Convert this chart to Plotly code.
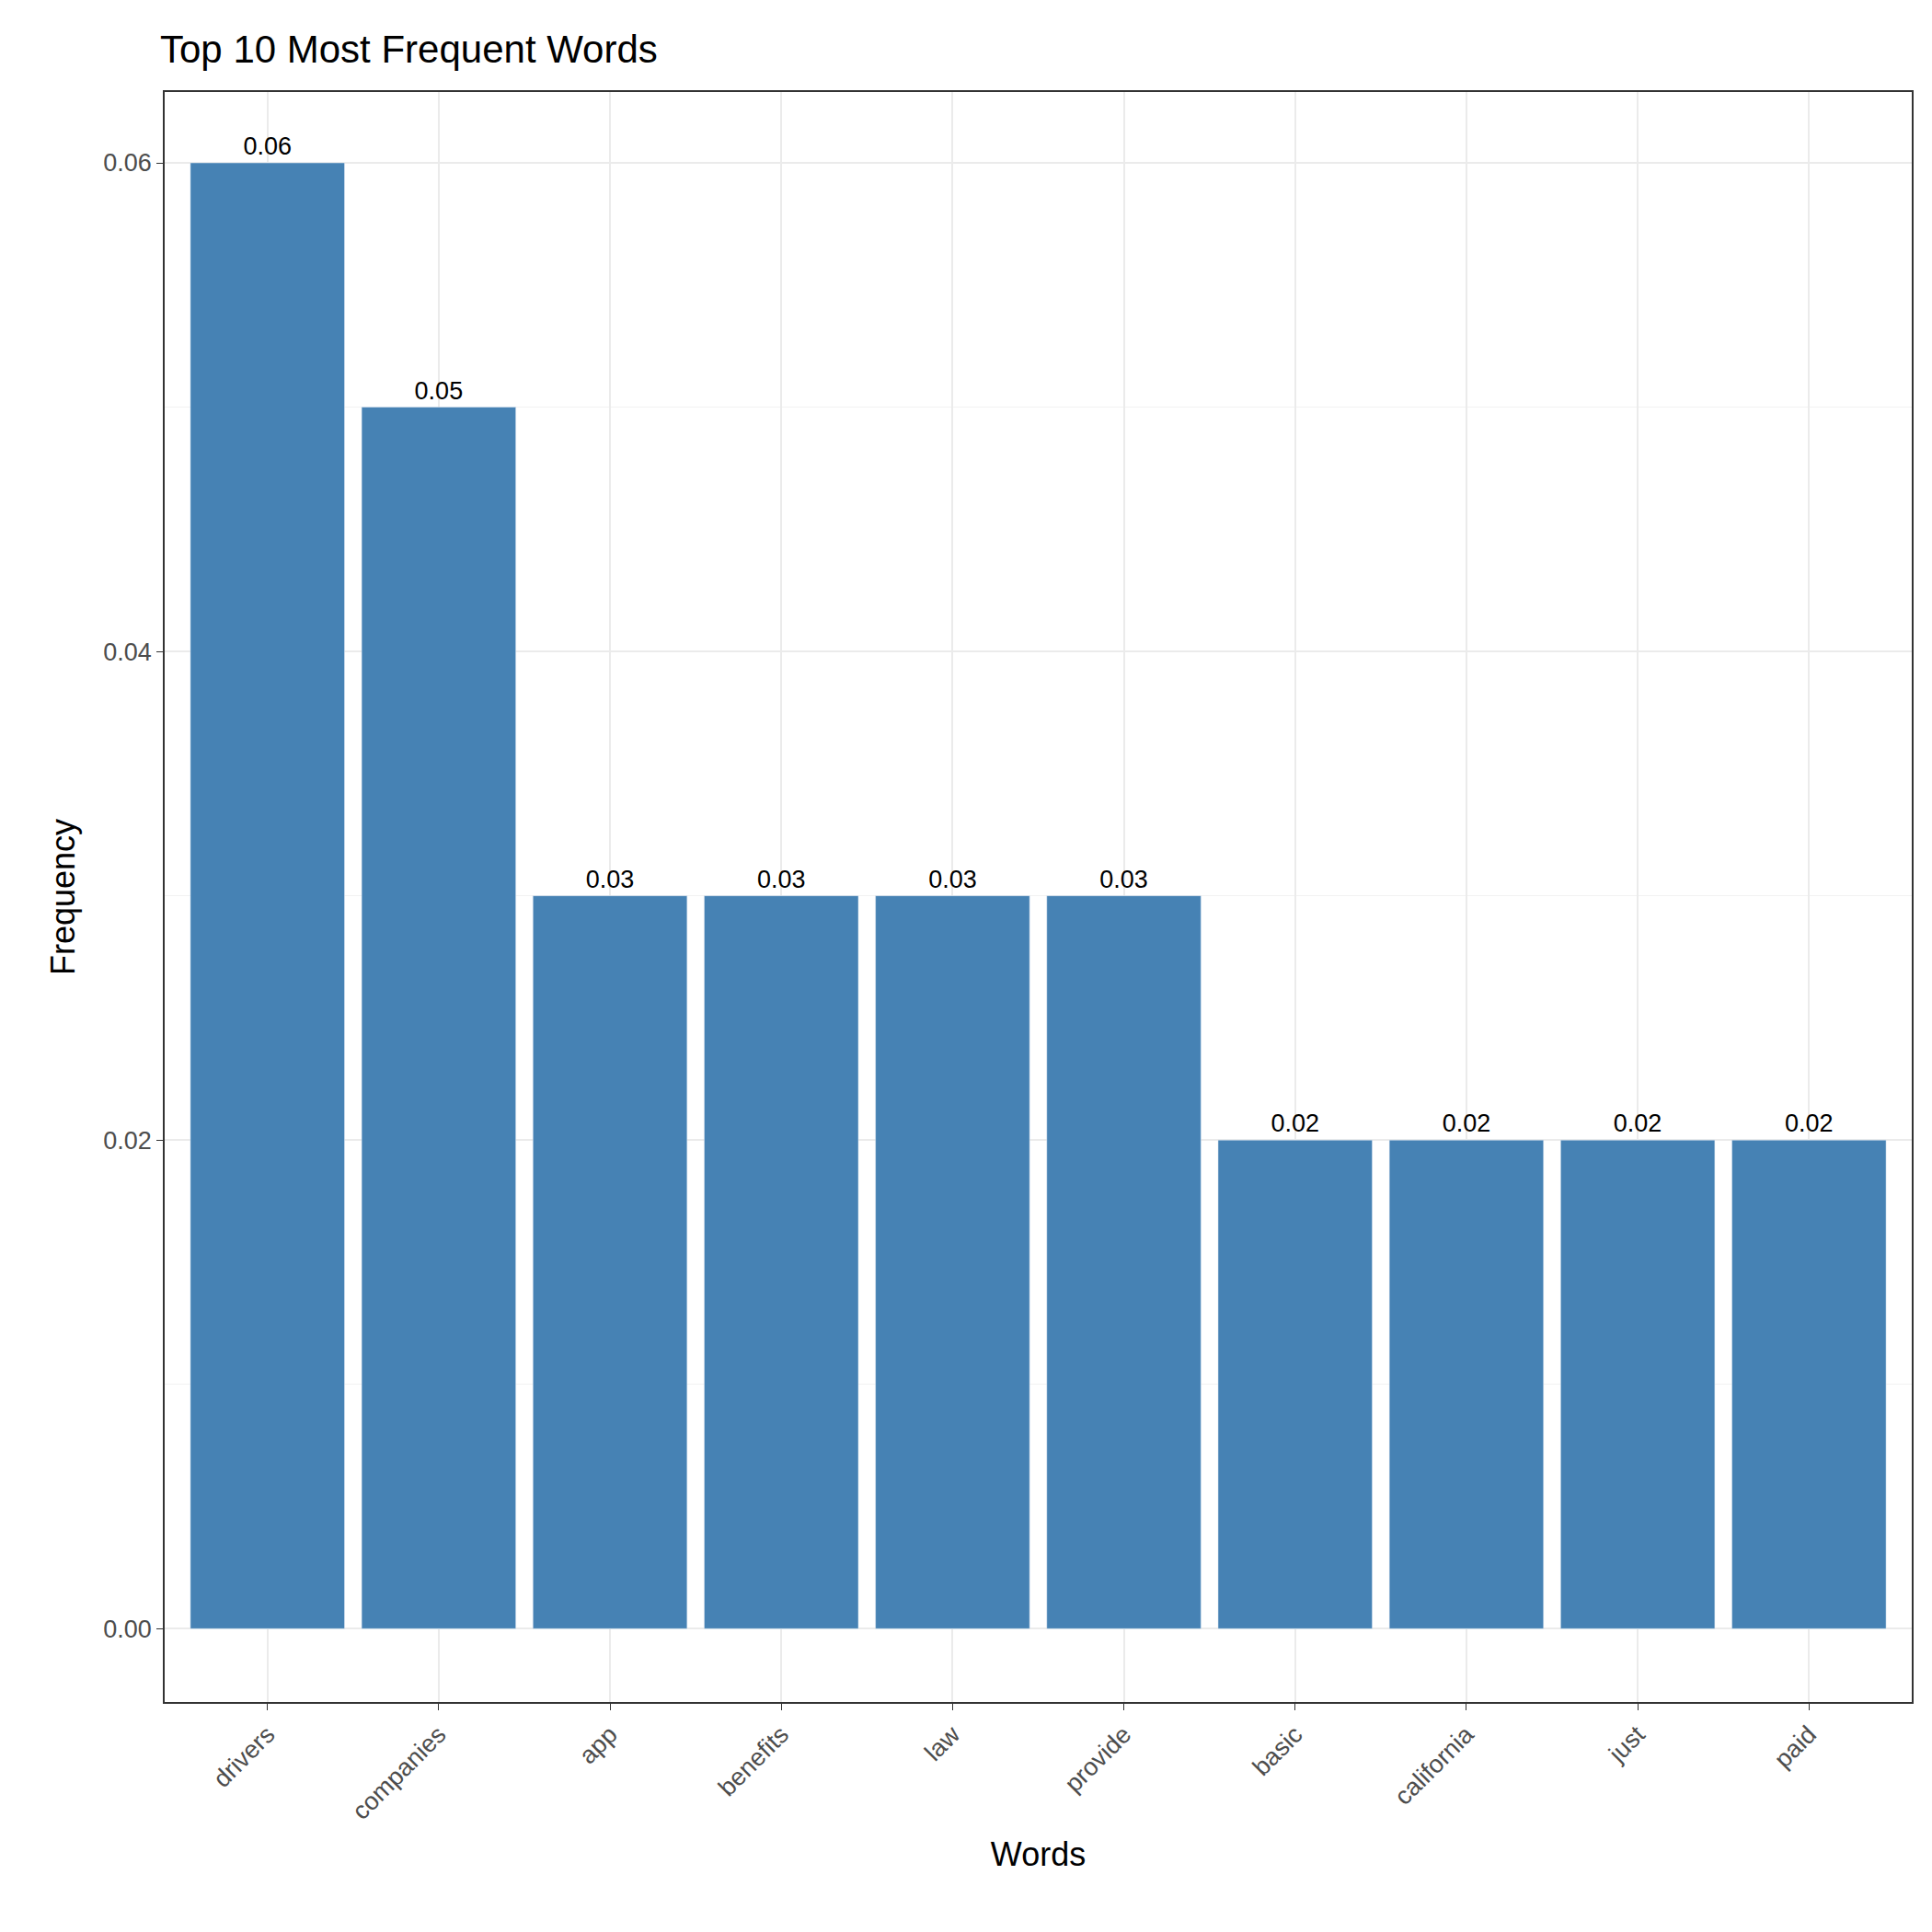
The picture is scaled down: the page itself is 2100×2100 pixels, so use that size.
import plotly.graph_objects as go

words = ["drivers", "companies", "app", "benefits", "law", "provide",
         "basic", "california", "just", "paid"]
freq = [0.06, 0.05, 0.03, 0.03, 0.03, 0.03, 0.02, 0.02, 0.02, 0.02]
labels = [f"{v:.2f}" for v in freq]

fig = go.Figure(go.Bar(
    x=words, y=freq, width=0.9,
    marker_color="#4682B4",
    text=labels, textposition="outside", cliponaxis=False,
    textfont=dict(size=27, color="black"),
))

fig.update_layout(
    width=2100, height=2100,
    margin=dict(l=171, r=30, t=92, b=258),
    paper_bgcolor="white", plot_bgcolor="white",
    font=dict(family="Liberation Sans, Arial, sans-serif", color="black"),
    title=dict(text="Top 10 Most Frequent Words", x=166 / 2100, xanchor="left",
               y=1 - 45 / 2100, yanchor="middle", font=dict(size=42)),
    showlegend=False,
)
fig.update_xaxes(
    title=dict(text="Words", font=dict(size=36), standoff=20),
    tickangle=-45, tickfont=dict(size=27, color="#4d4d4d"),
    showgrid=True, gridcolor="#ebebeb", gridwidth=2,
    ticks="outside", ticklen=7, tickcolor="#333333",
    showline=True, linecolor="#333333", mirror=True, linewidth=1.5,
    range=[-0.6, 9.6],
)
fig.update_yaxes(
    title=dict(text="Frequency", font=dict(size=36), standoff=20),
    range=[-0.003, 0.0629], tickvals=[0, 0.02, 0.04, 0.06],
    ticktext=["0.00", "0.02", "0.04", "0.06"],
    tickfont=dict(size=27, color="#4d4d4d"),
    showgrid=True, gridcolor="#ebebeb", gridwidth=2, zeroline=False,
    minor=dict(tickvals=[0.01, 0.03, 0.05], showgrid=True, gridcolor="#f2f2f2", gridwidth=1),
    ticks="outside", ticklen=7, tickcolor="#333333",
    showline=True, linecolor="#333333", mirror=True, linewidth=1.5,
)

fig.write_html("out.html")
